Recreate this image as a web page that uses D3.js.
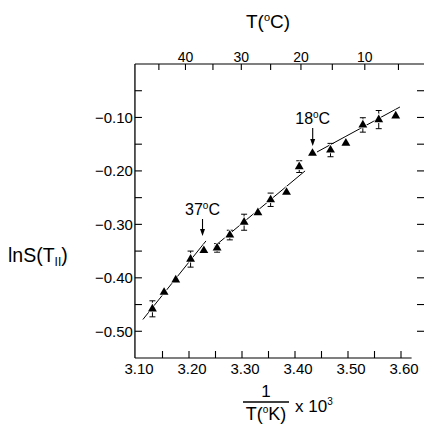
<!DOCTYPE html>
<html>
<head>
<meta charset="utf-8">
<script src="https://cdn.jsdelivr.net/npm/d3@7"></script>
<style>
  html, body { margin: 0; padding: 0; background: #fff; }
  svg { display: block; }
  text { font-family: "Liberation Sans", Arial, Helvetica, sans-serif; fill: #000; }
</style>
</head>
<body>
<svg id="chart" width="424" height="436"></svg>
<script>
// ---- data ----
const invT = [3.131, 3.153, 3.175, 3.203, 3.228, 3.253, 3.277, 3.304, 3.330, 3.354, 3.384, 3.408, 3.433, 3.467, 3.496, 3.528, 3.558, 3.590];
const lnS  = [-0.458, -0.427, -0.404, -0.365, -0.349, -0.344, -0.320, -0.296, -0.278, -0.254, -0.240, -0.192, -0.167, -0.161, -0.148, -0.114, -0.104, -0.097];
const errS = [0.015, 0, 0, 0.015, 0, 0.008, 0.009, 0.015, 0, 0.0125, 0, 0.011, 0, 0.0125, 0, 0.0135, 0.017, 0];

// fitted line segments [x1, y1, x2, y2]
const fitHigh = [3.113, -0.478, 3.232, -0.331];
const fitMid  = [3.247, -0.342, 3.419, -0.200];
const fitLow  = [3.4415, -0.1646, 3.598, -0.0804];

const xTickValues = [3.10, 3.15, 3.20, 3.25, 3.30, 3.35, 3.40, 3.45, 3.50, 3.55, 3.60];
const xTickLabels = ["3.10", "3.20", "3.30", "3.40", "3.50", "3.60"];
const yTickValues = [-0.05, -0.10, -0.15, -0.20, -0.25, -0.30, -0.35, -0.40, -0.45, -0.50];
const yTickLabels = ["−0.10", "−0.20", "−0.30", "−0.40", "−0.50"];
const celsiusTicks = [45, 40, 35, 30, 25, 20, 15, 10, 5];
const celsiusLabels = ["40", "30", "20", "10"];

const annotations = [
  { label: "37", x: 3.2255, yTop: 219, yTip: 236 },
  { label: "18", x: 3.4334, yTop: 128, yTip: 146 }
];

// ---- scales ----
const x = d3.scaleLinear().domain([3.10, 3.60]).range([136, 401]);
const y = d3.scaleLinear().domain([-0.55, 0]).range([358, 64]);
const celsiusToX = c => x(1000 / (c + 273.15));

const svg = d3.select("#chart");
const frameLeft = x(3.098), frameRightTop = 424, frameRightBottom = x(3.62);

// top axis line
svg.append("line").attr("x1", frameLeft).attr("x2", frameRightTop)
  .attr("y1", y(0)).attr("y2", y(0)).attr("stroke", "#000").attr("stroke-width", 1.2);
// bottom axis line
svg.append("line").attr("x1", frameLeft).attr("x2", frameRightBottom)
  .attr("y1", y(-0.55)).attr("y2", y(-0.55)).attr("stroke", "#000").attr("stroke-width", 1.2);
// left axis line
svg.append("line").attr("x1", frameLeft).attr("x2", frameLeft)
  .attr("y1", y(0)).attr("y2", y(-0.55)).attr("stroke", "#000").attr("stroke-width", 1.3);

// left ticks (inward)
svg.append("g").selectAll("line").data(yTickValues).join("line")
  .attr("x1", frameLeft).attr("x2", frameLeft + 7)
  .attr("y1", d => y(d)).attr("y2", d => y(d)).attr("stroke", "#000").attr("stroke-width", 1.1);
// right ticks (inward, axis line at the image edge)
svg.append("g").selectAll("line").data(yTickValues).join("line")
  .attr("x1", 417).attr("x2", 424)
  .attr("y1", d => y(d)).attr("y2", d => y(d)).attr("stroke", "#000").attr("stroke-width", 1.1);
// left tick labels
svg.append("g").selectAll("text").data(yTickLabels).join("text")
  .attr("x", frameLeft - 2).attr("y", d => y(+d.replace("−", "-")) + 5.5)
  .attr("text-anchor", "end").attr("font-size", 15).text(d => d);

// bottom ticks (upward)
svg.append("g").selectAll("line").data(xTickValues.slice(1)).join("line")
  .attr("x1", d => x(d)).attr("x2", d => x(d))
  .attr("y1", y(-0.55)).attr("y2", y(-0.55) - 7).attr("stroke", "#000").attr("stroke-width", 1.1);
// bottom tick labels
svg.append("g").selectAll("text").data(xTickLabels).join("text")
  .attr("x", d => x(+d) + 3).attr("y", y(-0.55) + 16)
  .attr("text-anchor", "middle").attr("font-size", 15).text(d => d);

// top ticks (Celsius, downward)
svg.append("g").selectAll("line").data(celsiusTicks).join("line")
  .attr("x1", d => celsiusToX(d)).attr("x2", d => celsiusToX(d))
  .attr("y1", y(0)).attr("y2", y(0) + 6).attr("stroke", "#000").attr("stroke-width", 1.1);
svg.append("g").selectAll("text").data(celsiusLabels).join("text")
  .attr("x", d => celsiusToX(+d)).attr("y", y(0) - 2)
  .attr("text-anchor", "middle").attr("font-size", 14).text(d => d);

// axis titles
const tTop = svg.append("text").attr("x", 268).attr("y", 28).attr("text-anchor", "middle").attr("font-size", 19);
tTop.append("tspan").text("T(");
tTop.append("tspan").attr("font-size", 11).attr("dy", -7).text("o");
tTop.append("tspan").attr("dy", 7).text("C)");

const tLeft = svg.append("text").attr("x", 8).attr("y", 262).attr("font-size", 19.5);
tLeft.append("tspan").text("lnS(T");
tLeft.append("tspan").attr("font-size", 12).attr("dy", 4).text("II");
tLeft.append("tspan").attr("dy", -4).text(")");

// bottom fraction title
svg.append("text").attr("x", 266).attr("y", 397).attr("text-anchor", "middle").attr("font-size", 17).text("1");
svg.append("line").attr("x1", 243).attr("x2", 289).attr("y1", 402).attr("y2", 402).attr("stroke", "#000").attr("stroke-width", 1.3);
const tDen = svg.append("text").attr("x", 266).attr("y", 420).attr("text-anchor", "middle").attr("font-size", 18);
tDen.append("tspan").text("T(");
tDen.append("tspan").attr("font-size", 10).attr("dy", -7).text("o");
tDen.append("tspan").attr("dy", 7).text("K)");
const tMul = svg.append("text").attr("x", 295).attr("y", 412).attr("font-size", 17);
tMul.append("tspan").text("x 10");
tMul.append("tspan").attr("font-size", 10).attr("dy", -7).text("3");

// fitted lines
[fitHigh, fitMid, fitLow].forEach(s => {
  svg.append("line").attr("x1", x(s[0])).attr("y1", y(s[1])).attr("x2", x(s[2])).attr("y2", y(s[3]))
    .attr("stroke", "#000").attr("stroke-width", 1);
});

// error bars
const pts = invT.map((v, i) => ({ x: v, y: lnS[i], e: errS[i] }));
const eb = svg.append("g").selectAll("g").data(pts.filter(p => p.e > 0)).join("g");
eb.append("line").attr("x1", d => x(d.x)).attr("x2", d => x(d.x))
  .attr("y1", d => y(d.y + d.e)).attr("y2", d => y(d.y - d.e)).attr("stroke", "#000").attr("stroke-width", 1);
eb.append("line").attr("x1", d => x(d.x) - 3).attr("x2", d => x(d.x) + 3)
  .attr("y1", d => y(d.y + d.e)).attr("y2", d => y(d.y + d.e)).attr("stroke", "#000").attr("stroke-width", 1);
eb.append("line").attr("x1", d => x(d.x) - 3).attr("x2", d => x(d.x) + 3)
  .attr("y1", d => y(d.y - d.e)).attr("y2", d => y(d.y - d.e)).attr("stroke", "#000").attr("stroke-width", 1);

// triangle markers
const tri = d3.symbol().type(d3.symbolTriangle).size(34);
svg.append("g").selectAll("path").data(pts).join("path")
  .attr("d", tri).attr("transform", d => `translate(${x(d.x)},${y(d.y)})`)
  .attr("fill", "#000").attr("stroke", "#fff").attr("stroke-width", 1.5).attr("paint-order", "stroke");

// annotations with arrows
annotations.forEach(a => {
  const ax = x(a.x);
  const t = svg.append("text").attr("x", ax).attr("y", a.yTop - 4).attr("text-anchor", "middle").attr("font-size", 16);
  t.append("tspan").text(a.label);
  t.append("tspan").attr("font-size", 10).attr("dy", -6).text("o");
  t.append("tspan").attr("dy", 6).text("C");
  svg.append("line").attr("x1", ax).attr("x2", ax).attr("y1", a.yTop).attr("y2", a.yTip - 4)
    .attr("stroke", "#000").attr("stroke-width", 1.1);
  svg.append("path").attr("d", `M${ax - 2.5},${a.yTip - 7}L${ax + 2.5},${a.yTip - 7}L${ax},${a.yTip}Z`).attr("fill", "#000");
});
</script>
</body>
</html>
